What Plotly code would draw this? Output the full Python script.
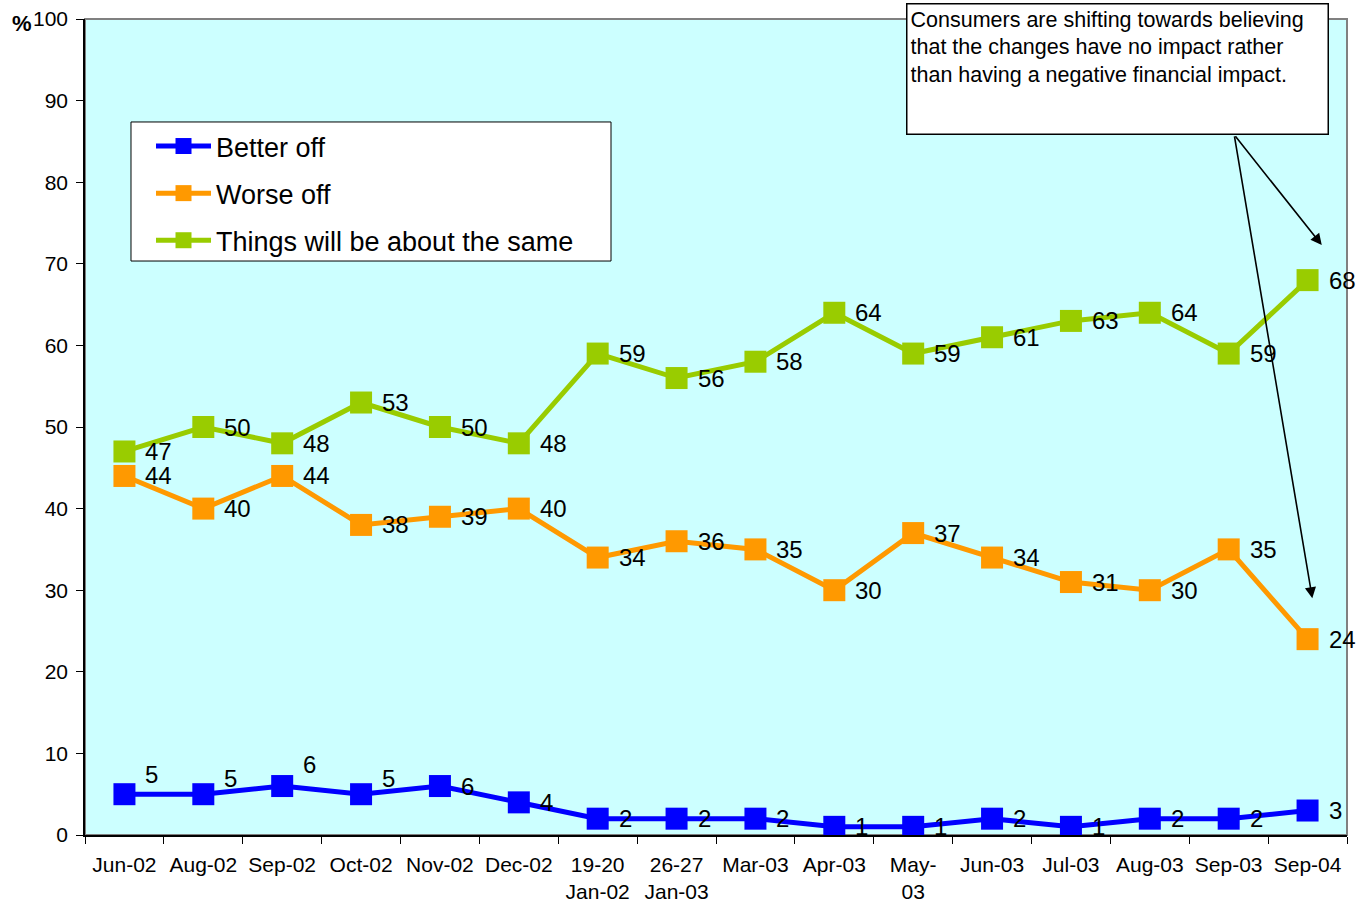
import plotly.graph_objects as go

# Survey waves (x axis categories)
categories = ["Jun-02", "Aug-02", "Sep-02", "Oct-02", "Nov-02", "Dec-02",
              "19-20<br>Jan-02", "26-27<br>Jan-03", "Mar-03", "Apr-03",
              "May-<br>03", "Jun-03", "Jul-03", "Aug-03", "Sep-03", "Sep-04"]

# Percentages per answer
better_off = [5, 5, 6, 5, 6, 4, 2, 2, 2, 1, 1, 2, 1, 2, 2, 3]
worse_off = [44, 40, 44, 38, 39, 40, 34, 36, 35, 30, 37, 34, 31, 30, 35, 24]
about_same = [47, 50, 48, 53, 50, 48, 59, 56, 58, 64, 59, 61, 63, 64, 59, 68]

series = [
    ("Better off", better_off, "#0000FF"),
    ("Worse off", worse_off, "#FF9900"),
    ("Things will be about the same", about_same, "#99CC00"),
]

# vertical nudges (px) for the "Better off" value labels
better_label_lift = [20, 16, 22, 16, 0, 0, 0, 0, 0, 0, 0, 0, 0, 0, 0, 0]

FONT = "Liberation Sans, Arial, sans-serif"

fig = go.Figure()
for i, (name, vals, color) in enumerate(series):
    fig.add_trace(go.Scatter(
        x=categories, y=vals, name=name, mode="lines+markers",
        line=dict(color=color, width=5),
        marker=dict(symbol="square", size=22, color=color),
        legendgroup=str(i),
    ))

annotations = []
for name, vals, color in series:
    for j, (c, v) in enumerate(zip(categories, vals)):
        lift = better_label_lift[j] if name == "Better off" else 0
        annotations.append(dict(
            x=c, y=v, xref="x", yref="y", text=str(v), showarrow=False,
            xanchor="left", yanchor="middle", xshift=19, yshift=lift,
            font=dict(family=FONT, size=24, color="black"),
        ))

# percent sign beside the top tick
annotations.append(dict(
    x=-0.05, y=100, xref="paper", yref="y", text="<b>%</b>", showarrow=False,
    xanchor="center", yanchor="middle", yshift=-4,
    font=dict(family=FONT, size=22, color="black"),
))

# comment box
annotations.append(dict(
    x=0.6506, y=1.0184, xref="paper", yref="paper",
    text=("Consumers are shifting towards believing<br>"
          "that the changes have no impact rather<br>"
          "than having a negative financial impact."),
    showarrow=False, xanchor="left", yanchor="top", align="left", valign="top",
    width=414, height=123, borderpad=3, bgcolor="white",
    bordercolor="black", borderwidth=1.5, yshift=1,
    font=dict(family=FONT, size=21.5, color="black"),
))

# arrows from the comment box
for tip_x, tip_y in [(15.18, 72.3), (15.06, 29.0)]:
    annotations.append(dict(
        x=tip_x, y=tip_y, xref="x", yref="y", ax=14.07, ay=85.8,
        axref="x", ayref="y", text="", showarrow=True,
        arrowhead=2, arrowsize=1.4, arrowwidth=1.6, arrowcolor="black",
    ))

fig.update_layout(
    width=1359, height=906,
    margin=dict(l=85, r=12, t=19, b=71),
    paper_bgcolor="white", plot_bgcolor="#CCFFFF",
    font=dict(family=FONT, size=21, color="black"),
    showlegend=True,
    legend=dict(
        x=0.0523, y=0.8738, xanchor="left", yanchor="top",
        bgcolor="rgba(0,0,0,0)", borderwidth=0,
        font=dict(family=FONT, size=27, color="black"),
        traceorder="grouped", tracegroupgap=9, itemwidth=55,
    ),
    annotations=annotations,
    shapes=[
        # plot area frame
        dict(type="rect", xref="paper", yref="paper", x0=0, y0=0, x1=1, y1=1,
             line=dict(color="#808080", width=2), layer="below"),
        # legend box
        dict(type="rect", xref="paper", yref="paper",
             x0=0.03645, x1=0.4168, y0=0.7034, y1=0.8738,
             fillcolor="white", line=dict(color="black", width=1), layer="above"),
    ],
)

fig.update_xaxes(
    type="category", tickson="boundaries", ticks="outside", ticklen=7,
    tickcolor="black", showline=True, linecolor="black", linewidth=1.5,
    showgrid=False, tickangle=0, ticklabelstandoff=10, automargin=False,
    tickfont=dict(family=FONT, size=21, color="black"),
    range=[-0.5, 15.5],
)
fig.update_yaxes(
    range=[0, 100], dtick=10, ticks="outside", ticklen=7, tickcolor="black",
    showline=True, linecolor="black", linewidth=1.5, showgrid=False,
    zeroline=False, ticklabelstandoff=4, automargin=False,
    tickfont=dict(family=FONT, size=21, color="black"),
)

fig.write_html("out.html")
